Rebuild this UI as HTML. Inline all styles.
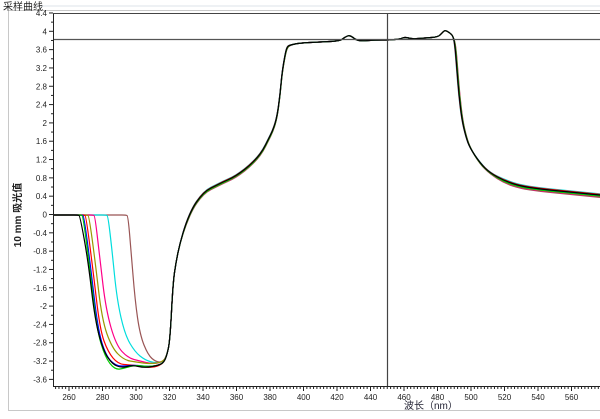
<!DOCTYPE html>
<html><head><meta charset="utf-8"><style>
body{margin:0;background:#fff;width:600px;height:414px;overflow:hidden;font-family:"Liberation Sans","Noto Sans CJK SC",sans-serif}
</style></head><body>
<svg id="s" width="600" height="414" xmlns="http://www.w3.org/2000/svg" font-family="Liberation Sans, Noto Sans CJK SC, sans-serif">
<rect x="0" y="0" width="600" height="414" fill="#fff"/>
<line x1="36" y1="6" x2="600" y2="6" stroke="#dde3ea" stroke-width="1"/>
<rect x="8.5" y="10.5" width="600" height="400" fill="none" stroke="#c8c8c8"/>
<text x="3" y="10" font-size="10" fill="#222">采样曲线</text>
<text transform="translate(21,215) rotate(-90)" font-size="10" font-weight="bold" text-anchor="middle" fill="#222">10 mm 吸光值</text>
<text x="404" y="409" font-size="10" fill="#223">波长（nm）</text>
<g id="ax" stroke="#222" fill="none"></g>
<g id="tl" font-size="8" fill="#222"></g>
<g id="cv" fill="none" stroke-width="1.2"></g>
<line x1="53" y1="39.5" x2="600" y2="39.5" stroke="#555" stroke-width="1.2"/>
<line x1="387.5" y1="13" x2="387.5" y2="386" stroke="#444" stroke-width="1.2"/>
<line x1="53.5" y1="13" x2="53.5" y2="386" stroke="#222"/>
<line x1="53" y1="13.5" x2="600" y2="13.5" stroke="#444"/>
<line x1="53" y1="386.5" x2="600" y2="386.5" stroke="#222"/>
</svg>
<script>
var NS="http://www.w3.org/2000/svg",ax=document.getElementById('ax'),tl=document.getElementById('tl'),cv=document.getElementById('cv');
function el(p,t,a,txt){var e=document.createElementNS(NS,t);for(var k in a)e.setAttribute(k,a[k]);if(txt)e.textContent=txt;p.appendChild(e);return e;}
function Y(v){return 214.5-45.8*v;}
for(var i=-9;i<=11;i++){var v=i*0.4,y=Y(v);el(ax,'line',{x1:49,y1:y,x2:53,y2:y});
 var y2=Y(v+0.2);if(i<11)el(ax,'line',{x1:51,y1:y2,x2:53,y2:y2});
 var s=(Math.round(v*10)/10).toString();el(tl,'text',{x:47,y:y+3,'text-anchor':'end'},s);}
for(var w=250;w<=600;w+=2){var x=69+(w-260)*1.675;if(x<54||x>600)continue;var big=(w%20==0);
 el(ax,'line',{x1:x,y1:386,x2:x,y2:big?391:389});if(big)el(tl,'text',{x:x,y:400,'text-anchor':'middle'},w);}
var tail=[[167,355],[170,340],[173,283],[176,262],[180,243],[186,223],[193,207],[200,197],[207,190],[215,186],[223,182],[232,178],[240,173],[249,166],[257,158],[263,150],[268,140],[273,130],[277,117],[280,95],[282,73],[285,55],[287,47],[290,45],[300,43],[320,42],[340,41],[345,37],[350,35],[356,40],[362,41],[375,40],[390,40],[400,39],[405,37],[412,39],[425,38],[438,37],[442,33],[445,30],[450,33],[453,36],[455,45],[457,70],[459,95],[462,120],[466,137],[470,148],[480,163],[490,173],[505,181],[520,186],[540,189],[560,191],[580,193],[600,195]];
var L=[
["#000",80,[[88,260],[95,320],[103,350],[112,364],[122,368],[132,365],[145,368],[160,365],[164,362]],0],
["#0c0",83,[[90,270],[97,330],[105,357],[115,370],[125,368],[135,365],[150,367],[163,364]],1],
["#00f",84,[[91,270],[98,330],[106,356],[116,366],[126,366],[135,365],[150,367],[163,364]],0.5],
["#f00",86,[[93,270],[100,330],[108,352],[118,364],[130,365],[140,366],[152,368],[163,364]],-0.5],
["#990",89,[[95,260],[102,320],[112,348],[124,360],[136,362],[150,364],[163,362]],1],
["#f08",95,[[100,260],[106,310],[116,345],[128,358],[140,361],[152,364],[163,362]],1.5],
["#0dd",108,[[112,250],[117,300],[125,335],[135,352],[145,360],[155,363],[163,362]],-1],
["#955",128,[[131,250],[135,300],[140,335],[148,355],[156,362],[163,362]],2]];
for(var j=L.length-1;j>=0;j--){var c=L[j],o=c[3];var pts=[[53,215],[c[1]-6,215],[c[1]-2,215],[c[1],216]].concat(c[2]);
 tail.forEach(function(p){var yy=p[1],xx=p[0];
  if(xx>180&&xx<290)yy+=o*0.8;
  if(xx>460)yy+=o*(xx>490?1.2:0.5);
  if(xx>=455&&xx<480)xx+=o*0.4;pts.push([xx,yy]);});
 var d="M"+pts[0][0]+","+pts[0][1]+" L"+pts[1][0]+","+pts[1][1];
 for(var k=2;k<pts.length-1;k++){var mx=(pts[k][0]+pts[k+1][0])/2,my=(pts[k][1]+pts[k+1][1])/2;
  d+=" Q"+pts[k][0].toFixed(1)+","+pts[k][1].toFixed(1)+" "+mx.toFixed(1)+","+my.toFixed(1);}
 d+=" L"+pts[pts.length-1][0]+","+pts[pts.length-1][1];
 el(cv,'path',{d:d,stroke:c[0],'stroke-linejoin':'round'});}
</script>
</body></html>
